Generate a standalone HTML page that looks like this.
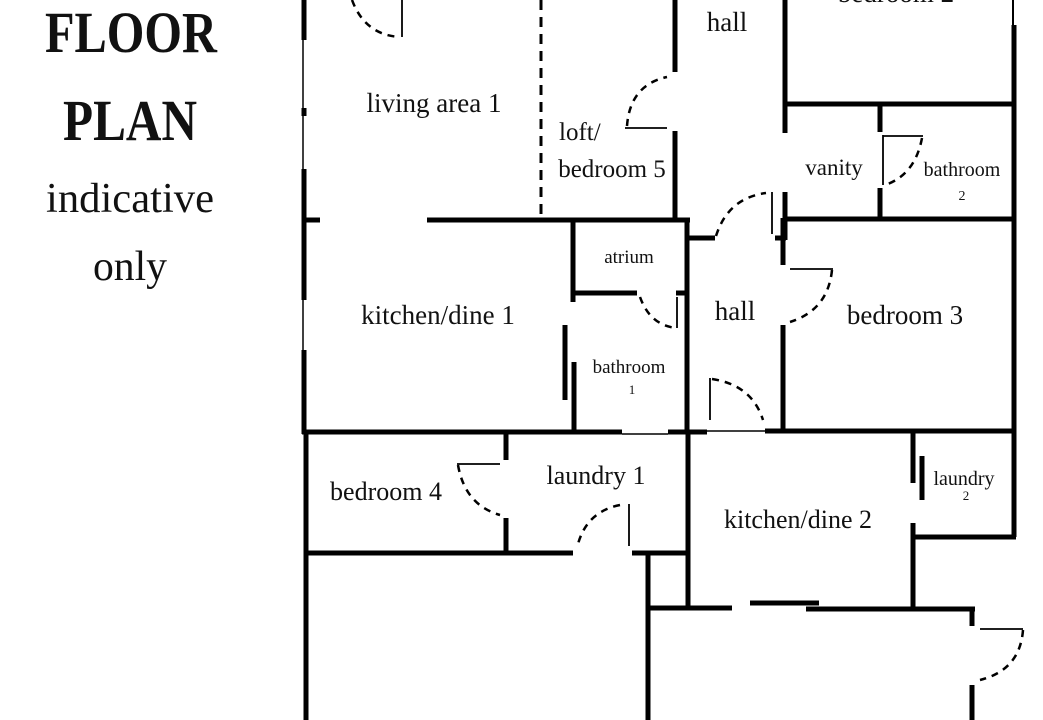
<!DOCTYPE html>
<html><head><meta charset="utf-8"><style>
html,body{margin:0;padding:0;background:#fff;}
svg{display:block;}
text{font-family:"Liberation Serif",serif;fill:#111;}
</style></head><body>
<svg width="1043" height="720" viewBox="0 0 1043 720" xmlns="http://www.w3.org/2000/svg">
<rect width="1043" height="720" fill="#fff"/>
<!-- title -->
<text x="131" y="52" font-size="58" font-weight="bold" text-anchor="middle" textLength="172" lengthAdjust="spacingAndGlyphs">FLOOR</text>
<text x="130" y="140" font-size="58" font-weight="bold" text-anchor="middle" textLength="134" lengthAdjust="spacingAndGlyphs">PLAN</text>
<text x="130" y="212" font-size="42" text-anchor="middle" textLength="168" lengthAdjust="spacingAndGlyphs">indicative</text>
<text x="130" y="280" font-size="42" text-anchor="middle" textLength="74" lengthAdjust="spacingAndGlyphs">only</text>

<g stroke="#000" fill="none" stroke-linecap="butt">
<g stroke-width="5">
<line x1="304" y1="0" x2="304" y2="40"/><line x1="304" y1="108" x2="304" y2="116"/>
<line x1="304" y1="169" x2="304" y2="300"/><line x1="304" y1="350" x2="304" y2="434"/>
<line x1="306" y1="432" x2="306" y2="720"/>
</g>
<g stroke-width="1.5">
<line x1="303" y1="40" x2="303" y2="108"/><line x1="303" y1="116" x2="303" y2="169"/><line x1="303" y1="300" x2="303" y2="350"/>
</g>
<g stroke-width="5">
<line x1="302" y1="220" x2="320" y2="220"/><line x1="427" y1="220" x2="690" y2="220"/>
<line x1="675" y1="0" x2="675" y2="72"/><line x1="675" y1="131" x2="675" y2="222"/>
<line x1="573" y1="220" x2="573" y2="302"/><line x1="573" y1="293" x2="637" y2="293"/><line x1="676" y1="293" x2="687" y2="293"/>
<line x1="687" y1="220" x2="687" y2="434"/>
<line x1="574" y1="362" x2="574" y2="434"/><line x1="565" y1="325" x2="565" y2="400"/>
<line x1="302" y1="432" x2="622" y2="432"/><line x1="668" y1="432" x2="707" y2="432"/>
<line x1="765" y1="431" x2="1016" y2="431"/>
<line x1="785" y1="0" x2="785" y2="133"/><line x1="785" y1="192" x2="785" y2="240"/>
<line x1="783" y1="218" x2="783" y2="265"/><line x1="783" y1="325" x2="783" y2="432"/>
<line x1="785" y1="104" x2="1013" y2="104"/><line x1="783" y1="219" x2="1013" y2="219"/>
<line x1="880" y1="104" x2="880" y2="132"/><line x1="880" y1="188" x2="880" y2="219"/>
<line x1="1014" y1="25" x2="1014" y2="537"/>
<line x1="686" y1="238" x2="715" y2="238"/><line x1="775" y1="238" x2="786" y2="238"/>
<line x1="506" y1="433" x2="506" y2="460"/><line x1="506" y1="518" x2="506" y2="555"/>
<line x1="304" y1="553" x2="573" y2="553"/><line x1="632" y1="553" x2="690" y2="553"/>
<line x1="688" y1="432" x2="688" y2="609"/>
<line x1="648" y1="553" x2="648" y2="720"/>
<line x1="646" y1="608" x2="732" y2="608"/><line x1="750" y1="603" x2="819" y2="603"/><line x1="806" y1="609" x2="975" y2="609"/>
<line x1="972" y1="607" x2="972" y2="626"/><line x1="972" y1="685" x2="972" y2="720"/>
<line x1="913" y1="432" x2="913" y2="483"/><line x1="913" y1="523" x2="913" y2="609"/>
<line x1="922" y1="456" x2="922" y2="500"/>
<line x1="911" y1="537" x2="1016" y2="537"/>
</g>
<line x1="1013" y1="0" x2="1013" y2="25" stroke-width="2"/>
<g stroke-width="1.5">
<line x1="622" y1="434" x2="668" y2="434"/>
<line x1="707" y1="431" x2="765" y2="431"/>
</g>
<line x1="541" y1="0" x2="541" y2="218" stroke-width="3" stroke-dasharray="10,7"/>
<g stroke-width="1.8">
<line x1="402" y1="0" x2="402" y2="37"/>
<line x1="625" y1="128" x2="667" y2="128"/>
<line x1="677" y1="297" x2="677" y2="328"/>
<line x1="883" y1="135" x2="883" y2="185"/><line x1="883" y1="136" x2="923" y2="136"/>
<line x1="772" y1="192" x2="772" y2="234"/>
<line x1="790" y1="269" x2="833" y2="269"/>
<line x1="710" y1="378" x2="710" y2="420"/>
<line x1="457" y1="464" x2="500" y2="464"/>
<line x1="629" y1="504" x2="629" y2="546"/>
<line x1="980" y1="629" x2="1023" y2="629"/>
</g>
<g stroke-width="2.5" stroke-dasharray="7,6">
<path d="M352,0 Q365,35 400,37"/>
<path d="M627,126 Q630,85 667,77"/>
<path d="M640,297 Q650,325 676,328"/>
<path d="M922,138 Q915,175 885,185"/>
<path d="M716,236 Q728,198 766,193"/>
<path d="M832,270 Q828,310 790,322"/>
<path d="M712,379 Q752,385 763,420"/>
<path d="M458,465 Q465,505 500,515"/>
<path d="M620,505 Q585,512 577,548"/>
<path d="M1023,630 Q1020,670 980,680"/>
</g>
</g>

<text x="434" y="112" font-size="27" text-anchor="middle">living area 1</text>
<text x="559" y="140" font-size="25">loft/</text>
<text x="612" y="177" font-size="25" text-anchor="middle">bedroom 5</text>
<text x="727" y="31" font-size="27" text-anchor="middle">hall</text>
<text x="896" y="2" font-size="27" text-anchor="middle">bedroom 2</text>
<text x="834" y="175" font-size="23" text-anchor="middle">vanity</text>
<text x="962" y="176" font-size="20" text-anchor="middle">bathroom</text>
<text x="962" y="200" font-size="14" text-anchor="middle">2</text>
<text x="629" y="263" font-size="19" text-anchor="middle">atrium</text>
<text x="438" y="324" font-size="27" text-anchor="middle">kitchen/dine 1</text>
<text x="735" y="320" font-size="27" text-anchor="middle">hall</text>
<text x="905" y="324" font-size="27" text-anchor="middle">bedroom 3</text>
<text x="629" y="373" font-size="19" text-anchor="middle">bathroom</text>
<text x="632" y="394" font-size="13" text-anchor="middle">1</text>
<text x="386" y="500" font-size="26" text-anchor="middle">bedroom 4</text>
<text x="596" y="484" font-size="26" text-anchor="middle">laundry 1</text>
<text x="798" y="528" font-size="26" text-anchor="middle">kitchen/dine 2</text>
<text x="964" y="485" font-size="20" text-anchor="middle">laundry</text>
<text x="966" y="500" font-size="13" text-anchor="middle">2</text>
</svg>
</body></html>
